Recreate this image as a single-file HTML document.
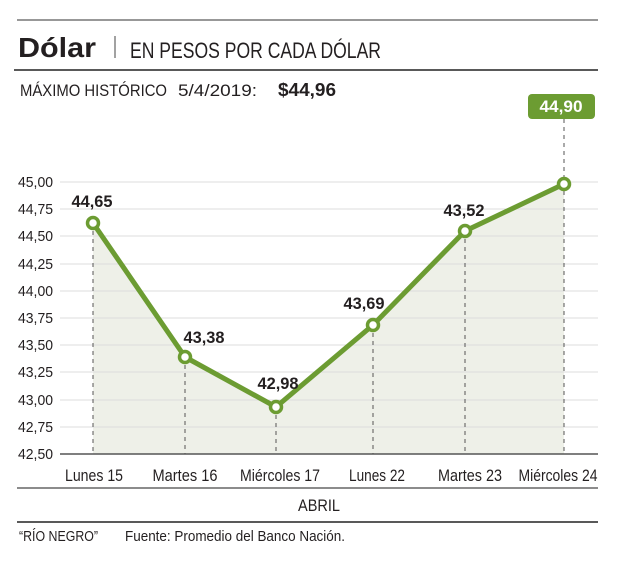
<!DOCTYPE html>
<html><head><meta charset="utf-8"><style>
body{margin:0;background:#fff}
svg text{font-family:"Liberation Sans Narrow","Liberation Sans",sans-serif;fill:#231f20}
</style></head><body>
<svg width="631" height="569" viewBox="0 0 631 569" xmlns="http://www.w3.org/2000/svg">
<line x1="17" y1="20" x2="598" y2="20" stroke="#777" stroke-width="1.5"/>
<text x="18" y="57" font-size="28" font-weight="bold" font-family="Liberation Sans" textLength="78" lengthAdjust="spacingAndGlyphs">Dólar</text>
<line x1="115" y1="36" x2="115" y2="58" stroke="#444" stroke-width="1"/>
<text x="130" y="58" font-size="22" textLength="251" lengthAdjust="spacingAndGlyphs">EN PESOS POR CADA DÓLAR</text>
<line x1="14" y1="70" x2="598" y2="70" stroke="#222" stroke-width="1.5"/>
<text x="20" y="96" font-size="17" textLength="147" lengthAdjust="spacingAndGlyphs">MÁXIMO HISTÓRICO</text>
<text x="178" y="96" font-size="17" textLength="79" lengthAdjust="spacingAndGlyphs">5/4/2019:</text>
<text x="278" y="96" font-size="18" font-weight="bold" textLength="58" lengthAdjust="spacingAndGlyphs">$44,96</text>
<polygon points="93,223 185,357 276,407 373,325 465,231 564,184 564,454 93,454" fill="#eef0e8"/>
<g stroke="#dcdcdc" stroke-width="1">
<line x1="60" y1="182" x2="598" y2="182"/><line x1="60" y1="209" x2="598" y2="209"/><line x1="60" y1="236" x2="598" y2="236"/><line x1="60" y1="264" x2="598" y2="264"/><line x1="60" y1="291" x2="598" y2="291"/><line x1="60" y1="318" x2="598" y2="318"/><line x1="60" y1="345" x2="598" y2="345"/><line x1="60" y1="372" x2="598" y2="372"/><line x1="60" y1="400" x2="598" y2="400"/><line x1="60" y1="427" x2="598" y2="427"/>
</g>
<line x1="60" y1="454" x2="598" y2="454" stroke="#555" stroke-width="1.5"/>
<g font-size="15">
<text x="18" y="187" textLength="35" lengthAdjust="spacingAndGlyphs">45,00</text>
<text x="18" y="214" textLength="35" lengthAdjust="spacingAndGlyphs">44,75</text>
<text x="18" y="241" textLength="35" lengthAdjust="spacingAndGlyphs">44,50</text>
<text x="18" y="269" textLength="35" lengthAdjust="spacingAndGlyphs">44,25</text>
<text x="18" y="296" textLength="35" lengthAdjust="spacingAndGlyphs">44,00</text>
<text x="18" y="323" textLength="35" lengthAdjust="spacingAndGlyphs">43,75</text>
<text x="18" y="350" textLength="35" lengthAdjust="spacingAndGlyphs">43,50</text>
<text x="18" y="377" textLength="35" lengthAdjust="spacingAndGlyphs">43,25</text>
<text x="18" y="405" textLength="35" lengthAdjust="spacingAndGlyphs">43,00</text>
<text x="18" y="432" textLength="35" lengthAdjust="spacingAndGlyphs">42,75</text>
<text x="18" y="459" textLength="35" lengthAdjust="spacingAndGlyphs">42,50</text>
</g>
<g stroke="#555" stroke-width="1" stroke-dasharray="4,4">
<line x1="93" y1="223" x2="93" y2="454"/><line x1="185" y1="357" x2="185" y2="454"/><line x1="276" y1="407" x2="276" y2="454"/><line x1="373" y1="325" x2="373" y2="454"/><line x1="465" y1="231" x2="465" y2="454"/><line x1="564" y1="119" x2="564" y2="454"/>
</g>
<polyline points="93,223 185,357 276,407 373,325 465,231 564,184" fill="none" stroke="#6c9c32" stroke-width="5" stroke-linejoin="round"/>
<g fill="#fff" stroke="#6c9c32" stroke-width="3.5">
<circle cx="93" cy="223" r="5.5"/><circle cx="185" cy="357" r="5.5"/><circle cx="276" cy="407" r="5.5"/><circle cx="373" cy="325" r="5.5"/><circle cx="465" cy="231" r="5.5"/><circle cx="564" cy="184" r="5.5"/>
</g>
<g font-size="17" font-weight="bold" text-anchor="middle">
<text x="92" y="207" textLength="41" lengthAdjust="spacingAndGlyphs">44,65</text>
<text x="204" y="343" textLength="41" lengthAdjust="spacingAndGlyphs">43,38</text>
<text x="278" y="389" textLength="41" lengthAdjust="spacingAndGlyphs">42,98</text>
<text x="364" y="309" textLength="41" lengthAdjust="spacingAndGlyphs">43,69</text>
<text x="464" y="216" textLength="41" lengthAdjust="spacingAndGlyphs">43,52</text>
</g>
<rect x="528" y="94" width="67" height="25" rx="4" fill="#6c9c32"/>
<text x="561" y="112" font-size="17" font-weight="bold" text-anchor="middle" style="fill:#fff" textLength="43" lengthAdjust="spacingAndGlyphs">44,90</text>
<g font-size="17" text-anchor="middle">
<text x="94" y="481" textLength="58" lengthAdjust="spacingAndGlyphs">Lunes 15</text>
<text x="185" y="481" textLength="65" lengthAdjust="spacingAndGlyphs">Martes 16</text>
<text x="280" y="481" textLength="80" lengthAdjust="spacingAndGlyphs">Miércoles 17</text>
<text x="377" y="481" textLength="56" lengthAdjust="spacingAndGlyphs">Lunes 22</text>
<text x="470" y="481" textLength="64" lengthAdjust="spacingAndGlyphs">Martes 23</text>
<text x="558" y="481" textLength="79" lengthAdjust="spacingAndGlyphs">Miércoles 24</text>
<text x="319" y="511" textLength="42" lengthAdjust="spacingAndGlyphs">ABRIL</text>
</g>
<line x1="17" y1="488" x2="598" y2="488" stroke="#666" stroke-width="1.5"/>
<line x1="17" y1="522" x2="598" y2="522" stroke="#222" stroke-width="1.5"/>
<text x="19" y="541" font-size="15" textLength="79" lengthAdjust="spacingAndGlyphs">“RÍO NEGRO”</text>
<text x="125" y="541" font-size="15" textLength="220" lengthAdjust="spacingAndGlyphs">Fuente: Promedio del Banco Nación.</text>
</svg>
</body></html>
